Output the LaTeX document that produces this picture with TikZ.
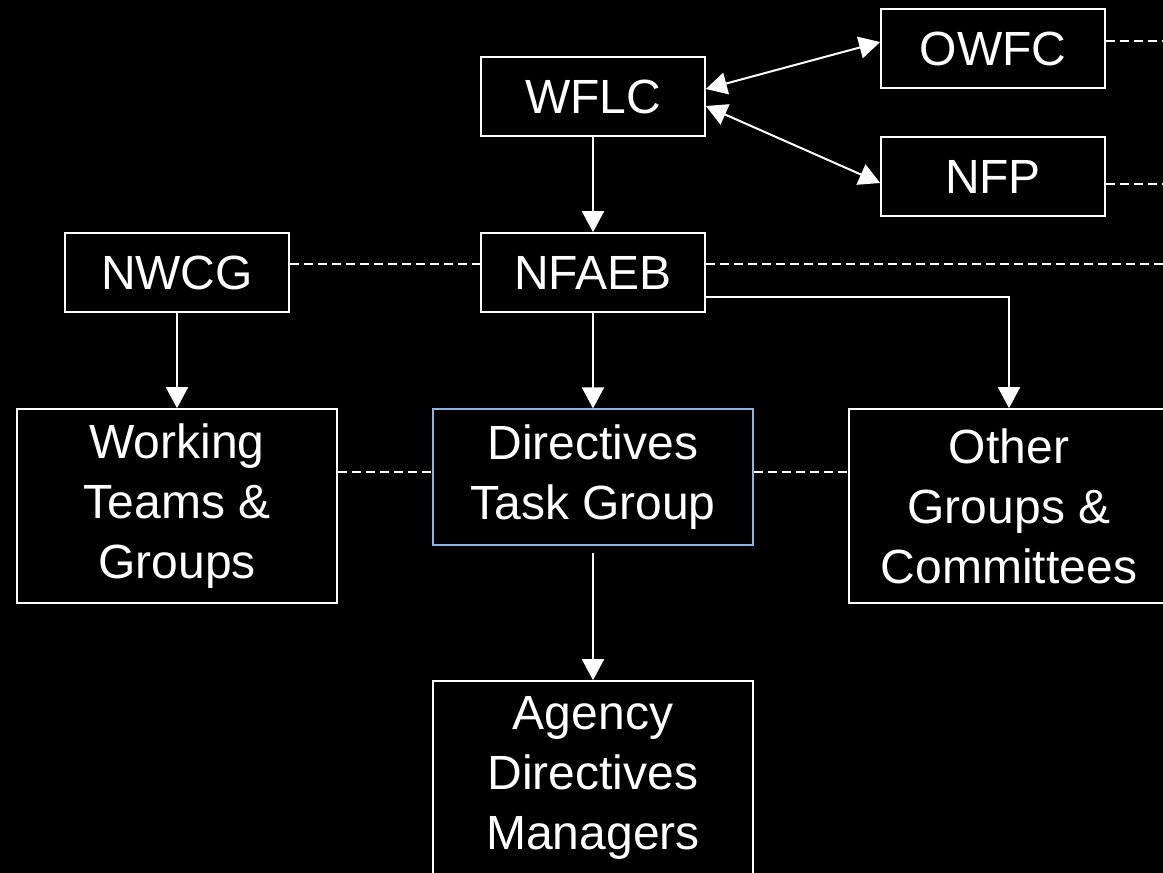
\documentclass[tikz,border=0pt]{standalone}
\usepackage{fontspec}
\setmainfont{Liberation Sans}
\usetikzlibrary{arrows.meta}
\definecolor{bg}{HTML}{000000}
\definecolor{ink}{HTML}{FFFFFF}
\definecolor{taskblue}{HTML}{8EB4E3}
\tikzset{
  orgbox/.style={draw=ink, line width=0.85pt, fill=bg, text=ink, align=center, inner sep=0pt, font=\fontsize{24}{30}\selectfont},
  smallbox/.style={orgbox, minimum width=112pt, minimum height=39.5pt},
  bigbox/.style={orgbox, minimum width=160pt, minimum height=97pt},
  link/.style={draw=ink, line width=1pt, -{Triangle[width=11pt,length=10.5pt]}},
  twolink/.style={link, {Triangle[width=11pt,length=10.5pt]}-{Triangle[width=11pt,length=10.5pt]}},
  peer/.style={draw=ink, line width=0.9pt, dash pattern=on 4.5pt off 2.5pt}
}

\begin{document}
\begin{tikzpicture}[x=0.5pt, y=-0.5pt]
  \fill[bg] (0,0) rectangle (1163,873);
  \useasboundingbox (0,0) rectangle (1163,873);

  \node[smallbox] (owfc) at (993,48.5) {OWFC};
  \node[smallbox] (nfp) at (993,176.5) {NFP};
  \node[smallbox] (wflc) at (593,96.5) {WFLC};
  \node[smallbox] (nfaeb) at (593,272.5) {NFAEB};
  \node[smallbox] (nwcg) at (177,272.5) {NWCG};
  \node[bigbox] (teams) at (177,506) {Working\\Teams \&\\Groups};
  \node[bigbox, draw=taskblue, line width=0.6pt, minimum height=68pt] (task) at (593,477) {Directives\\Task Group};
  \node[bigbox] (other) at (1009,506) {Other\\Groups \&\\Committees};
  \node[bigbox] (agency) at (593,778) {Agency\\Directives\\Managers};

  \coordinate (edgeA) at (1170,41);
  \coordinate (edgeB) at (1170,184);
  \coordinate (edgeC) at (1170,264);
  \coordinate (peerrow) at (0,472);

  \draw[twolink] ([yshift=3.75pt]wflc.east) -- ([yshift=3.25pt]owfc.west);
  \draw[twolink] ([yshift=-4.75pt]wflc.east) -- ([yshift=-3.25pt]nfp.west);
  \draw[link] (wflc) -- (nfaeb);
  \draw[link] (nwcg) -- (teams);
  \draw[link] (nfaeb) -- (task);
  \draw[link, shorten <=3.5pt] (task) -- (agency);
  \draw[link] ([yshift=-12.25pt]nfaeb.east) -| (other);

  \draw[peer] (owfc.east |- edgeA) -- (edgeA);
  \draw[peer] (nfp.east |- edgeB) -- (edgeB);
  \draw[peer] (nwcg.east |- edgeC) -- (nfaeb.west |- edgeC);
  \draw[peer] (nfaeb.east |- edgeC) -- (edgeC);
  \draw[peer] (teams.east |- peerrow) -- (task.west |- peerrow);
  \draw[peer] (task.east |- peerrow) -- (other.west |- peerrow);
\end{tikzpicture}
\end{document}
